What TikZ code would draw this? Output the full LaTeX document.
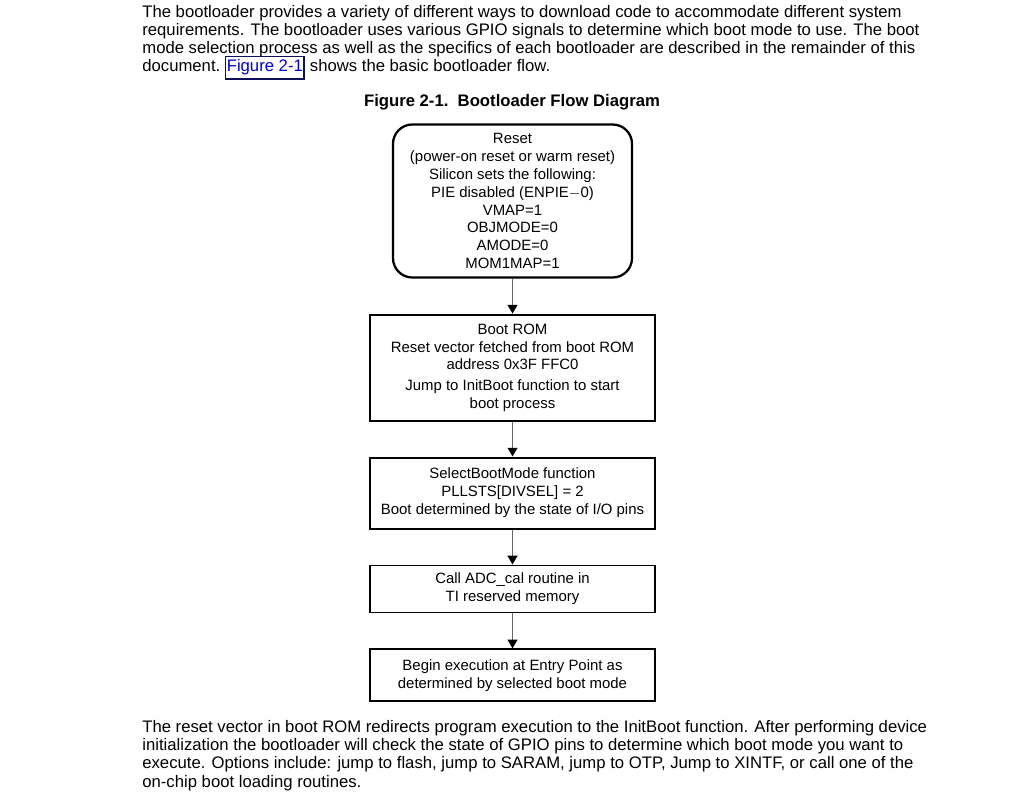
\documentclass[tikz,border=0pt]{standalone}
\usepackage{fontspec}
\setmainfont{Liberation Sans}
\usetikzlibrary{arrows.meta, positioning}
\definecolor{LinkBlue}{rgb}{0.0, 0.0, 0.8}
\definecolor{LinkFrame}{rgb}{0.05, 0.05, 0.35}
\definecolor{FlowGray}{rgb}{0.4, 0.4, 0.4}

\begin{document}
\begin{tikzpicture}[
    para/.style={anchor=base west, inner sep=0pt, font=\fontsize{9.5}{10}\selectfont},
    caption/.style={anchor=base, inner sep=0pt, font=\fontsize{9.5}{10}\selectfont\bfseries},
    link/.style={anchor=base west, draw=LinkFrame, line width=0.8pt, text=LinkBlue,
        inner xsep=0.6pt, inner ysep=2pt, font=\fontsize{9.5}{10}\selectfont},
    start/.style={draw=black, line width=1.3pt, rounded corners=11pt, align=center,
        minimum width=4.78cm, minimum height=3.06cm, inner sep=0pt,
        font=\fontsize{8.5}{10.2}\selectfont},
    stepbox/.style={draw=black, line width=1.1pt, align=center,
        minimum width=5.7cm, inner sep=0pt, font=\fontsize{8.5}{10.2}\selectfont},
    flow/.style={-{Triangle[length=5pt, width=5.5pt, color=black]}, line width=1.1pt, FlowGray},
    node distance=0.70cm,
]
\useasboundingbox (0,0) rectangle (20.5,-16);

% ============ texto de arriba ============
\node[para] (p1) at (2.84,-0.36) {The bootloader provides a variety of different ways to download code to accommodate different system};
\node[para] (p2) at (2.84,-0.72) {requirements. The bootloader uses various GPIO signals to determine which boot mode to use. The boot};
\node[para] (p3) at (2.84,-1.08) {mode selection process as well as the specifics of each bootloader are described in the remainder of this};
\node[para] (p4) at (2.84,-1.44) {document.};
\node[link] (lnk) at ([xshift=2.5pt]p4.base east) {Figure 2-1};
\node[para] (p5) at ([xshift=2.8pt]lnk.base east) {shows the basic bootloader flow.};

\node[caption] (cap) at (10.24,-2.14) {Figure 2-1.\ \ Bootloader Flow Diagram};

% ============ diagrama ============
\node[start] (reset) at (10.25,-4.02)
    {Reset\\(power-on reset or warm reset)\\Silicon sets the following:\\PIE disabled (ENPIE$-$0)\\VMAP=1\\OBJMODE=0\\AMODE=0\\MOM1MAP=1};
\node[stepbox, minimum height=2.12cm, below=of reset] (rom)
    {Boot ROM\\Reset vector fetched from boot ROM\\address 0x3F FFC0\\[1.5pt]Jump to InitBoot function to start\\boot process};
\node[stepbox, minimum height=1.42cm, below=of rom] (sel)
    {SelectBootMode function\\PLLSTS[DIVSEL] = 2\\Boot determined by the state of I/O pins};
\node[stepbox, minimum height=0.94cm, below=of sel] (adc)
    {Call ADC\_cal routine in\\TI reserved memory};
\node[stepbox, minimum height=1.04cm, below=of adc] (entry)
    {Begin execution at Entry Point as\\determined by selected boot mode};
\foreach \p/\q in {reset/rom,rom/sel,sel/adc,adc/entry} \draw[flow] (\p)--(\q);

% ============ texto de abajo ============
\node[para] (q1) at (2.84,-14.64) {The reset vector in boot ROM redirects program execution to the InitBoot function. After performing device};
\node[para] (q2) at (2.84,-15.00) {initialization the bootloader will check the state of GPIO pins to determine which boot mode you want to};
\node[para] (q3) at (2.84,-15.37) {execute. Options include: jump to flash, jump to SARAM, jump to OTP, Jump to XINTF, or call one of the};
\node[para] (q4) at (2.84,-15.74) {on-chip boot loading routines.};

\end{tikzpicture}
\end{document}
